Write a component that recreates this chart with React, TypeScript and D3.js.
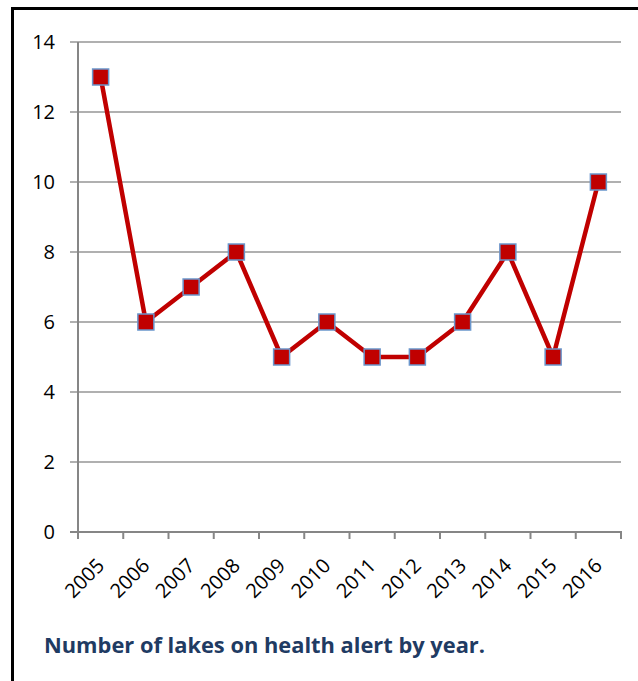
import * as d3 from "d3"

const years = ["2005", "2006", "2007", "2008", "2009", "2010", "2011", "2012", "2013", "2014", "2015", "2016"]
const lakes = [13, 6, 7, 8, 5, 6, 5, 5, 6, 8, 5, 10]
const yTicks = [0, 2, 4, 6, 8, 10, 12, 14]
const caption = "Number of lakes on health alert by year."

const width = 638
const height = 681
const plot = { left: 78, right: 621, top: 42, bottom: 532 }

export default function App() {
  const x = d3.scaleBand().domain(years).range([plot.left, plot.right])
  const y = d3.scaleLinear().domain([0, 14]).range([plot.bottom, plot.top])

  const line = d3
    .line<number>()
    .x((_, i) => (x(years[i]) ?? 0) + x.bandwidth() / 2)
    .y((d) => y(d))

  const tickXs = [...years.map((yr) => x(yr) ?? 0), plot.right]
  const font = "'Open Sans', sans-serif"

  return (
    <svg
      width={width}
      height={height}
      style={{ position: "absolute", left: 0, top: 0, display: "block", background: "#fff" }}
    >
      {/* frame */}
      <line x1={11} x2={width} y1={8.5} y2={8.5} stroke="#000" strokeWidth={3} />
      <line x1={12.5} x2={12.5} y1={7} y2={height} stroke="#000" strokeWidth={3} />

      {/* grid */}
      {yTicks.slice(1).map((t) => (
        <line key={t} x1={plot.left - 8} x2={plot.right} y1={y(t)} y2={y(t)} stroke="#969696" strokeWidth={1.5} />
      ))}

      {/* axes */}
      <line x1={plot.left} x2={plot.left} y1={plot.top} y2={plot.bottom} stroke="#868686" strokeWidth={2} />
      <line x1={plot.left - 8} x2={plot.right + 1} y1={plot.bottom} y2={plot.bottom} stroke="#868686" strokeWidth={2} />
      {tickXs.map((tx, i) => (
        <line key={i} x1={tx} x2={tx} y1={plot.bottom} y2={plot.bottom + 7} stroke="#868686" strokeWidth={2} />
      ))}

      {/* y labels */}
      {yTicks.map((t) => (
        <text key={t} x={55} y={y(t)} dy="0.36em" textAnchor="end" fontFamily={font} fontSize={20} fill="#000">
          {t}
        </text>
      ))}

      {/* x labels */}
      {years.map((yr) => {
        const cx = (x(yr) ?? 0) + x.bandwidth() / 2
        return (
          <text
            key={yr}
            transform={`translate(${cx - 5},${plot.bottom + 25}) rotate(-45)`}
            textAnchor="end"
            dy="0.7em"
            fontFamily={font}
            fontSize={20}
            fill="#000"
          >
            {yr}
          </text>
        )
      })}

      {/* series */}
      <path d={line(lakes) ?? ""} fill="none" stroke="#c00000" strokeWidth={4.5} strokeLinejoin="round" />
      {lakes.map((v, i) => {
        const cx = (x(years[i]) ?? 0) + x.bandwidth() / 2
        return (
          <rect
            key={i}
            x={cx - 8}
            y={y(v) - 8}
            width={16}
            height={16}
            fill="#c00000"
            stroke="#6a96cc"
            strokeWidth={1.5}
          />
        )
      })}

      {/* caption */}
      <text
        x={44}
        y={653}
        fontFamily={font}
        fontWeight="bold"
        fontSize={22}
        fill="#1f3b63"
        textLength={441}
        lengthAdjust="spacingAndGlyphs"
      >
        {caption}
      </text>
    </svg>
  )
}
